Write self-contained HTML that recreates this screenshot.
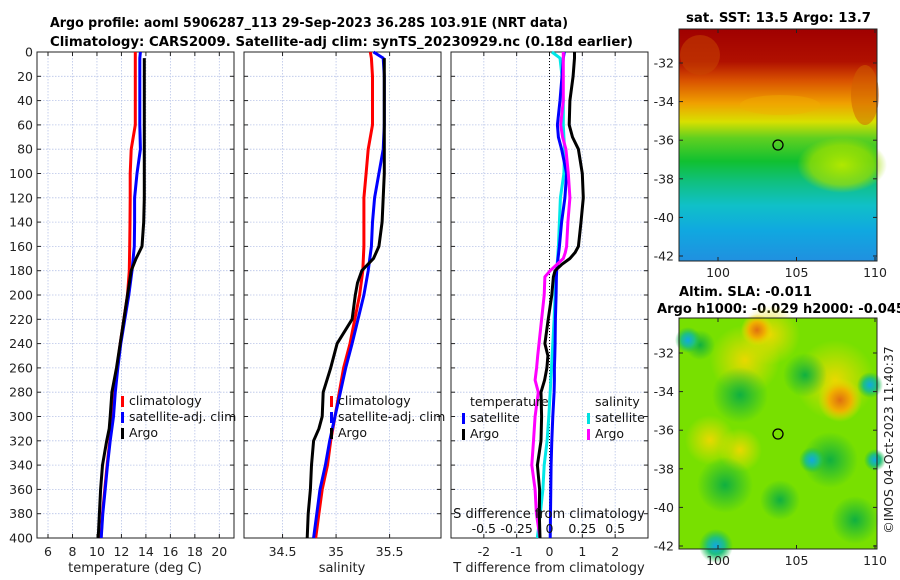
<!DOCTYPE html>
<html><head><meta charset="utf-8"><style>
body{margin:0;background:#fff;}
svg{display:block;font-family:"DejaVu Sans","Liberation Sans",sans-serif;}
</style></head><body>
<svg id="fig" width="900" height="580" xmlns="http://www.w3.org/2000/svg">
<defs>
<linearGradient id="sstg" x1="0" y1="0" x2="0" y2="1">
<stop offset="0" stop-color="#a00000"/><stop offset="0.14" stop-color="#b01000"/><stop offset="0.22" stop-color="#d85000"/>
<stop offset="0.32" stop-color="#f0a000"/><stop offset="0.4" stop-color="#d8e000"/><stop offset="0.47" stop-color="#60d020"/>
<stop offset="0.57" stop-color="#10c030"/><stop offset="0.66" stop-color="#10c080"/><stop offset="0.76" stop-color="#10c0c8"/>
<stop offset="0.87" stop-color="#10a8e0"/><stop offset="1" stop-color="#2090e0"/></linearGradient>
<radialGradient id="bg1"><stop offset="0" stop-color="#10a8e0"/><stop offset="0.5" stop-color="#20c080"/><stop offset="1" stop-color="#20c040" stop-opacity="0"/></radialGradient>
<radialGradient id="gg1"><stop offset="0" stop-color="#10b040"/><stop offset="1" stop-color="#10b040" stop-opacity="0"/></radialGradient>
<radialGradient id="yy1"><stop offset="0" stop-color="#e8d800"/><stop offset="1" stop-color="#e8e000" stop-opacity="0"/></radialGradient>
<radialGradient id="yg1"><stop offset="0" stop-color="#b0e800"/><stop offset="0.7" stop-color="#a0e000" stop-opacity="0.7"/><stop offset="1" stop-color="#a0e000" stop-opacity="0"/></radialGradient>
<radialGradient id="oo1"><stop offset="0" stop-color="#e07010"/><stop offset="0.5" stop-color="#f0b000"/><stop offset="1" stop-color="#f0e000" stop-opacity="0"/></radialGradient>
</defs>
<g id="plots"></g>
<text x="50" y="27" font-size="13" font-weight="bold" textLength="518" lengthAdjust="spacingAndGlyphs">Argo profile: aoml 5906287_113 29-Sep-2023 36.28S 103.91E (NRT data)</text>
<text x="50" y="46" font-size="13" font-weight="bold" textLength="583" lengthAdjust="spacingAndGlyphs">Climatology: CARS2009. Satellite-adj clim: synTS_20230929.nc (0.18d earlier)</text>

<g>
<text x="686" y="22" font-size="13" font-weight="bold" textLength="185" lengthAdjust="spacingAndGlyphs">sat. SST: 13.5 Argo: 13.7</text>
<rect x="679" y="29" width="198" height="232" fill="url(#sstg)"/>
<ellipse cx="842" cy="165" rx="45" ry="28" fill="url(#yg1)"/>
<ellipse cx="700" cy="55" rx="20" ry="20" fill="#c84800" opacity="0.5"/>
<ellipse cx="865" cy="95" rx="14" ry="30" fill="#d06000" opacity="0.5"/>
<ellipse cx="780" cy="105" rx="40" ry="10" fill="#f0b000" opacity="0.4"/>
<circle cx="778" cy="145" r="5" fill="none" stroke="#000" stroke-width="1.3"/>
<rect x="679" y="29" width="198" height="232" fill="none" stroke="#222"/>
<g id="sstAxes"></g>
</g>
<g>
<text x="679" y="296" font-size="13" font-weight="bold" textLength="133" lengthAdjust="spacingAndGlyphs">Altim. SLA: -0.011</text>
<text x="657" y="313" font-size="13" font-weight="bold" textLength="248" lengthAdjust="spacingAndGlyphs">Argo h1000: -0.029 h2000: -0.045</text>
<rect x="679" y="318" width="198" height="231" fill="#78e000"/>
<circle cx="710" cy="440" r="25" fill="url(#yy1)"/>
<circle cx="745" cy="360" r="35" fill="url(#yy1)"/>
<circle cx="770" cy="335" r="30" fill="url(#yy1)"/>
<circle cx="835" cy="380" r="40" fill="url(#yy1)"/>
<circle cx="740" cy="450" r="22" fill="url(#yy1)"/>
<circle cx="840" cy="400" r="22" fill="url(#oo1)"/>
<circle cx="757" cy="330" r="16" fill="url(#oo1)"/>
<circle cx="740" cy="395" r="28" fill="url(#gg1)"/>
<circle cx="805" cy="375" r="22" fill="url(#gg1)"/>
<circle cx="830" cy="460" r="28" fill="url(#gg1)"/>
<circle cx="725" cy="485" r="28" fill="url(#gg1)"/>
<circle cx="855" cy="520" r="24" fill="url(#gg1)"/>
<circle cx="780" cy="500" r="20" fill="url(#gg1)"/>
<circle cx="700" cy="345" r="15" fill="url(#gg1)"/>
<circle cx="688" cy="340" r="13" fill="url(#bg1)"/>
<circle cx="812" cy="460" r="13" fill="url(#bg1)"/>
<circle cx="870" cy="385" r="13" fill="url(#bg1)"/>
<circle cx="716" cy="546" r="17" fill="url(#bg1)"/>
<circle cx="875" cy="460" r="11" fill="url(#bg1)"/>
<circle cx="778" cy="434" r="5" fill="none" stroke="#000" stroke-width="1.3"/>
<rect x="679" y="318" width="198" height="231" fill="none" stroke="#222"/>
<g id="slaAxes"></g>
</g>
<text transform="translate(893,440) rotate(-90)" font-size="12.5" text-anchor="middle" fill="#222">©IMOS 04-Oct-2023 11:40:37</text>
</svg>
<script>
// ---- data ----
const depthClim = [0, 5, 20, 40, 60, 80, 100, 120, 140, 160, 180, 200, 240, 260, 280, 300, 320, 340, 360, 380, 400];
const tempClim =  [13.13, 13.13, 13.13, 13.13, 13.13, 12.8, 12.72, 12.72, 12.7, 12.68, 12.64, 12.5, 11.9, 11.65, 11.45, 11.3, 11.05, 10.83, 10.64, 10.45, 10.33];
const tempSat =   [13.55, 13.5, 13.5, 13.5, 13.5, 13.55, 13.27, 13.08, 13.08, 13.05, 12.86, 12.6, 11.95, 11.7, 11.5, 11.35, 11.08, 10.86, 10.67, 10.48, 10.35];
const salClim =   [35.32, 35.33, 35.34, 35.34, 35.34, 35.30, 35.28, 35.26, 35.26, 35.26, 35.25, 35.22, 35.13, 35.07, 35.03, 34.99, 34.95, 34.92, 34.87, 34.84, 34.81];
const salSat =    [35.35, 35.44, 35.45, 35.45, 35.45, 35.44, 35.40, 35.36, 35.34, 35.33, 35.30, 35.26, 35.15, 35.09, 35.04, 34.99, 34.94, 34.90, 34.85, 34.82, 34.79];
const depthArgo = [5, 20, 40, 60, 80, 100, 120, 140, 160, 170, 180, 190, 200, 220, 240, 260, 280, 300, 310, 320, 340, 360, 380, 400];
const tempArgo =  [13.87, 13.87, 13.87, 13.87, 13.87, 13.87, 13.87, 13.82, 13.68, 13.2, 12.8, 12.65, 12.5, 12.2, 11.9, 11.6, 11.22, 11.08, 11.0, 10.8, 10.45, 10.3, 10.2, 10.1];
const salArgo =   [35.45, 35.45, 35.45, 35.45, 35.45, 35.45, 35.44, 35.43, 35.40, 35.35, 35.24, 35.2, 35.18, 35.15, 35.01, 34.95, 34.88, 34.87, 34.84, 34.79, 34.77, 34.76, 34.74, 34.73];
const depthDiff = [0, 5, 20, 40, 60, 70, 80, 100, 120, 140, 160, 165, 170, 175, 180, 185, 200, 220, 240, 250, 260, 270, 280, 300, 320, 340, 360, 380, 400];
const tDiffArgo = [0.76, 0.76, 0.72, 0.62, 0.6, 0.7, 0.88, 1.0, 1.03, 0.96, 0.88, 0.78, 0.62, 0.37, 0.17, 0.12, 0.07, -0.04, -0.14, -0.05, -0.08, -0.15, -0.26, -0.24, -0.26, -0.37, -0.3, -0.31, -0.29];
const tDiffSat =  [0.45, 0.42, 0.38, 0.32, 0.24, 0.27, 0.37, 0.52, 0.47, 0.37, 0.3, 0.28, 0.26, 0.24, 0.22, 0.21, 0.2, 0.18, 0.17, 0.16, 0.15, 0.15, 0.14, 0.1, 0.07, 0.05, 0.04, 0.03, 0.02];
const sDiffSat =  [0.018, 0.08, 0.095, 0.105, 0.105, 0.11, 0.115, 0.11, 0.083, 0.075, 0.068, 0.065, 0.062, 0.058, 0.052, 0.05, 0.043, 0.035, 0.025, 0.02, 0.015, 0.01, 0.005, -0.005, -0.018, -0.04, -0.05, -0.07, -0.093];
const sDiffArgo = [0.105, 0.105, 0.105, 0.105, 0.085, 0.1, 0.125, 0.143, 0.155, 0.14, 0.13, 0.12, 0.105, 0.055, 0.005, -0.035, -0.04, -0.06, -0.08, -0.09, -0.098, -0.11, -0.085, -0.11, -0.122, -0.135, -0.11, -0.1, -0.072];
const tempTicks = [6, 8, 10, 12, 14, 16, 18, 20];
const salTicks = [34.5, 35, 35.5];
const tdiffTicks = [-2, -1, 0, 1, 2];
const sdiffTicks = [-0.5, -0.25, 0, 0.25, 0.5];
const depthTicks = [0, 20, 40, 60, 80, 100, 120, 140, 160, 180, 200, 220, 240, 260, 280, 300, 320, 340, 360, 380, 400];
const latTicks = [-32, -34, -36, -38, -40, -42];
const lonTicks = [100, 105, 110];

const NS = 'http://www.w3.org/2000/svg';
const root = document.getElementById('plots');
function mk(tag, attrs, parent){const e=document.createElementNS(NS,tag);for(const k in attrs)e.setAttribute(k,attrs[k]);(parent||root).appendChild(e);return e;}
const Y0=52, Y1=538;
const yD = d => Y0 + d/400*(Y1-Y0);

function panel(name, x0, x1, dmin, dmax, ticks, fmt, leftLabels){
  const sx = v => x0 + (v-dmin)/(dmax-dmin)*(x1-x0);
  const g = mk('g', {});
  
  
  ticks.forEach(t=>{mk('line',{x1:sx(t),x2:sx(t),y1:Y0,y2:Y1,stroke:'#b8c4e8','stroke-width':0.8,'stroke-dasharray':'1.5,1.5'},g);});
  depthTicks.forEach(d=>{mk('line',{x1:x0,x2:x1,y1:yD(d),y2:yD(d),stroke:'#b8c4e8','stroke-width':0.8,'stroke-dasharray':'1.5,1.5'},g);
    mk('line',{x1:x0,x2:x0+4,y1:yD(d),y2:yD(d),stroke:'#222'},g);mk('line',{x1:x1-4,x2:x1,y1:yD(d),y2:yD(d),stroke:'#222'},g);
    if(leftLabels){const t=mk('text',{x:x0-4,y:yD(d)+4.5,'font-size':12.5,'text-anchor':'end',fill:'#222'},g);t.textContent=d;}});
  if(fmt) ticks.forEach(t=>{mk('line',{x1:sx(t),x2:sx(t),y1:Y1,y2:Y1-4,stroke:'#222'},g);mk('line',{x1:sx(t),x2:sx(t),y1:Y0,y2:Y0+4,stroke:'#222'},g);
    const tx=mk('text',{x:sx(t),y:556,'font-size':12.5,'text-anchor':'middle',fill:'#222'},g);tx.textContent=fmt(t);});
  mk('rect',{x:x0,y:Y0,width:x1-x0,height:Y1-Y0,fill:'none',stroke:'#222','stroke-width':1},g);
  return {sx,g};
}
function line(p, xs, ds, color, name, scale){
  const k = scale||1;
  const pts = xs.map((v,i)=>p.sx(v*k).toFixed(1)+','+yD(ds[i]).toFixed(1)).join(' ');
  const l = mk('polyline',{points:pts,fill:'none',stroke:color,'stroke-width':3,'stroke-linejoin':'round'},p.g);
  
  
}
function legend(g, x, y, items){
  items.forEach((it,i)=>{mk('rect',{x:x,y:y+i*16-9,width:3,height:11,fill:it[1]},g);
    const t=mk('text',{x:x+8,y:y+i*16,'font-size':12.5,fill:'#111'},g);t.textContent=it[0];
    
    });
}
// panel 1
const p1 = panel('temperature-panel', 37, 234, 5.1, 21.2, tempTicks, v=>v, true);
line(p1, tempClim, depthClim, '#ff0000', 'temp-climatology-line');
line(p1, tempSat, depthClim, '#0000ff', 'temp-satellite-line');
line(p1, tempArgo, depthArgo, '#000', 'temp-argo-line');
mk('text',{x:135,y:572,'font-size':13,'text-anchor':'middle',fill:'#222'},p1.g).textContent='temperature (deg C)';
legend(p1.g, 121, 405, [['climatology','#ff0000'],['satellite-adj. clim','#0000ff'],['Argo','#000']]);
// panel 2
const p2 = panel('salinity-panel', 244, 441, 34.14, 35.98, salTicks, v=>v, false);
line(p2, salClim, depthClim, '#ff0000', 'sal-climatology-line');
line(p2, salSat, depthClim, '#0000ff', 'sal-satellite-line');
line(p2, salArgo, depthArgo, '#000', 'sal-argo-line');
mk('text',{x:342,y:572,'font-size':13,'text-anchor':'middle',fill:'#222'},p2.g).textContent='salinity';
legend(p2.g, 330, 405, [['climatology','#ff0000'],['satellite-adj. clim','#0000ff'],['Argo','#000']]);
// panel 3
const p3 = panel('difference-panel', 451, 648, -3, 3, tdiffTicks, v=>v, false);
mk('line',{x1:p3.sx(0),x2:p3.sx(0),y1:Y0,y2:Y1,stroke:'#000','stroke-width':1,'stroke-dasharray':'1,2'},p3.g);
line(p3, sDiffSat, depthDiff, '#00e8e8', 'sal-diff-satellite-line', 4);
line(p3, tDiffSat, depthDiff, '#0000ff', 'temp-diff-satellite-line');
line(p3, sDiffArgo, depthDiff, '#ff00ff', 'sal-diff-argo-line', 4);
line(p3, tDiffArgo, depthDiff, '#000', 'temp-diff-argo-line');
mk('text',{x:549,y:572,'font-size':13,'text-anchor':'middle',fill:'#222'},p3.g).textContent='T difference from climatology';
mk('text',{x:549,y:518,'font-size':13,'text-anchor':'middle',fill:'#111'},p3.g).textContent='S difference from climatology';
sdiffTicks.forEach(s=>{const t=mk('text',{x:p3.sx(s*4),y:533,'font-size':12.5,'text-anchor':'middle',fill:'#111'},p3.g);t.textContent=s;});
mk('text',{x:470,y:406,'font-size':12.5,fill:'#111'},p3.g).textContent='temperature';
legend(p3.g, 462, 422, [['satellite','#0000ff'],['Argo','#000']]);
mk('text',{x:595,y:406,'font-size':12.5,fill:'#111'},p3.g).textContent='salinity';
legend(p3.g, 587, 422, [['satellite','#00e0e0'],['Argo','#ff00ff']]);
// map axes
function mapAxes(id, y0, y1, latTop, latBot){
  const g=document.getElementById(id);
  const sy = la => latTop + (la+32)/(-10)*(latBot-latTop);
  const sx = lo => 718 + (lo-100)/10*(875-718);
  latTicks.forEach(la=>{mk('line',{x1:679,x2:683,y1:sy(la),y2:sy(la),stroke:'#222'},g);mk('line',{x1:873,x2:877,y1:sy(la),y2:sy(la),stroke:'#222'},g);
    mk('text',{x:674,y:sy(la)+4.5,'font-size':12.5,'text-anchor':'end',fill:'#222'},g).textContent=la;});
  lonTicks.forEach(lo=>{mk('line',{x1:sx(lo),x2:sx(lo),y1:y1,y2:y1-4,stroke:'#222'},g);mk('line',{x1:sx(lo),x2:sx(lo),y1:y0,y2:y0+4,stroke:'#222'},g);
    mk('text',{x:sx(lo),y:y1+16,'font-size':12.5,'text-anchor':'middle',fill:'#222'},g).textContent=lo;});
}
mapAxes('sstAxes', 29, 261, 63, 256);
mapAxes('slaAxes', 318, 549, 353, 546);
</script>
</body></html>
